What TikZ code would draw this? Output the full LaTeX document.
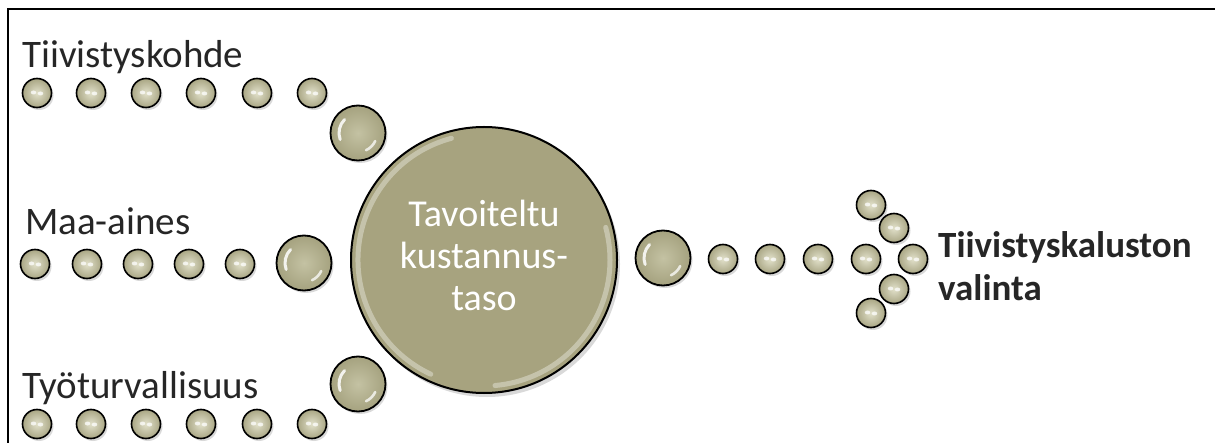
\documentclass[tikz,border=0pt]{standalone}
\usepackage{fontspec}
\setmainfont{Carlito}
\usetikzlibrary{shadows}

\definecolor{beadlight}{HTML}{E2E1CB}
\definecolor{beaddark}{HTML}{A9A684}
\definecolor{bigbeadin}{HTML}{C4C2A3}
\definecolor{bigbeadout}{HTML}{A5A27F}
\definecolor{hubfill}{HTML}{A7A37F}
\definecolor{labelgray}{HTML}{262626}

\tikzset{
  beadshadow/.style={drop shadow={opacity=0.3, shadow xshift=2pt, shadow yshift=-2.5pt}},
  smallbead/.style={circle, minimum size=29pt, inner sep=0pt, draw=black,
    line width=1.6pt, inner color=beadlight, outer color=beaddark, beadshadow,
    path picture={
      \begin{scope}[shift={(path picture bounding box.center)}]
        \fill[white, opacity=0.75] (-3.5pt,0.5pt) ellipse [x radius=2.7pt, y radius=2pt];
        \fill[white, opacity=0.75] (3.5pt,-0.5pt) ellipse [x radius=2.7pt, y radius=2pt];
      \end{scope}
    }},
  bigbead/.style={circle, minimum size=55pt, inner sep=0pt, draw=black,
    line width=1.8pt, inner color=bigbeadin, outer color=bigbeadout, beadshadow},
  beadglint/.style={white, opacity=0.85, line width=3pt, line cap=round},
  hubstyle/.style={circle, minimum size=266pt, inner sep=0pt, draw=black,
    line width=2pt, fill=hubfill, text=white, align=center,
    font=\fontsize{38}{42}\selectfont,
    drop shadow={opacity=0.3, shadow xshift=3pt, shadow yshift=-4pt}},
  hubrim/.style={white, opacity=0.35, line width=5pt, line cap=round},
  sidelabel/.style={anchor=base west, inner sep=0pt, text=labelgray,
    font=\fontsize{39}{44}\selectfont},
  goallabel/.style={anchor=base west, inner sep=0pt, text=labelgray, align=left,
    font=\bfseries\fontsize{37}{43}\selectfont},
}

% light glints on a big bead: an arc on the upper left and one on the lower right
\newcommand\glints[1]{%
  \draw[beadglint] ([shift={(135:19pt)}]#1.center) arc[start angle=135, end angle=200, radius=19pt];
  \draw[beadglint, line width=2.6pt, opacity=0.75] ([shift={(-25:19pt)}]#1.center) arc[start angle=-25, end angle=-65, radius=19pt];
}

\begin{document}
\begin{tikzpicture}[x=1pt, y=1pt]
  \useasboundingbox (0,0) rectangle (1215,-443);

  % frame along the top and left edges
  \draw[line width=2.5pt] (1215,-9) -- (8,-9) -- (8,-443);

  % input labels
  \node[sidelabel] (lab1) at (22,-68) {Tiivistyskohde};
  \node[sidelabel] (lab2) at (25,-235) {Maa-aines};
  \node[sidelabel] (lab3) at (22,-398) {Työturvallisuus};

  % first input chain
  \foreach \x [count=\i] in {37,91,146,201,257,312}
    \node[smallbead] (a\i) at (\x,-93) {};
  \node[bigbead] (abig) at (358,-133) {};
  \glints{abig}

  % second input chain
  \foreach \x [count=\i] in {35,87,138,189,240}
    \node[smallbead] (b\i) at (\x,-264) {};
  \node[bigbead] (bbig) at (304,-263) {};
  \glints{bbig}

  % third input chain
  \foreach \x [count=\i] in {37,91,146,201,257,312}
    \node[smallbead] (c\i) at (\x,-424) {};
  \node[bigbead] (cbig) at (358,-384) {};
  \glints{cbig}

  % central target with a light rim along its edge
  \node[hubstyle] (hub) at (484,-260) {Tavoiteltu\\kustannus-\\taso\\[-32pt]};
  \draw[hubrim] ([shift={(105:126pt)}]hub.center) arc[start angle=105, end angle=245, radius=126pt];
  \draw[hubrim] ([shift={(-85:126pt)}]hub.center) arc[start angle=-85, end angle=15, radius=126pt];

  % output chain
  \node[bigbead] (dbig) at (663,-258) {};
  \glints{dbig}
  \foreach \x [count=\i] in {723,770,818,866}
    \node[smallbead] (d\i) at (\x,-259) {};

  % arrow head made of beads
  \node[smallbead] (h1) at (871,-205) {};
  \node[smallbead] (h2) at (894,-228) {};
  \node[smallbead] (h3) at (913,-259) {};
  \node[smallbead] (h4) at (894,-289) {};
  \node[smallbead] (h5) at (871,-313) {};

  % result label (base anchor sits on the last line)
  \node[goallabel] (goal) at (938,-301) {Tiivistyskaluston\\valinta};
\end{tikzpicture}
\end{document}
